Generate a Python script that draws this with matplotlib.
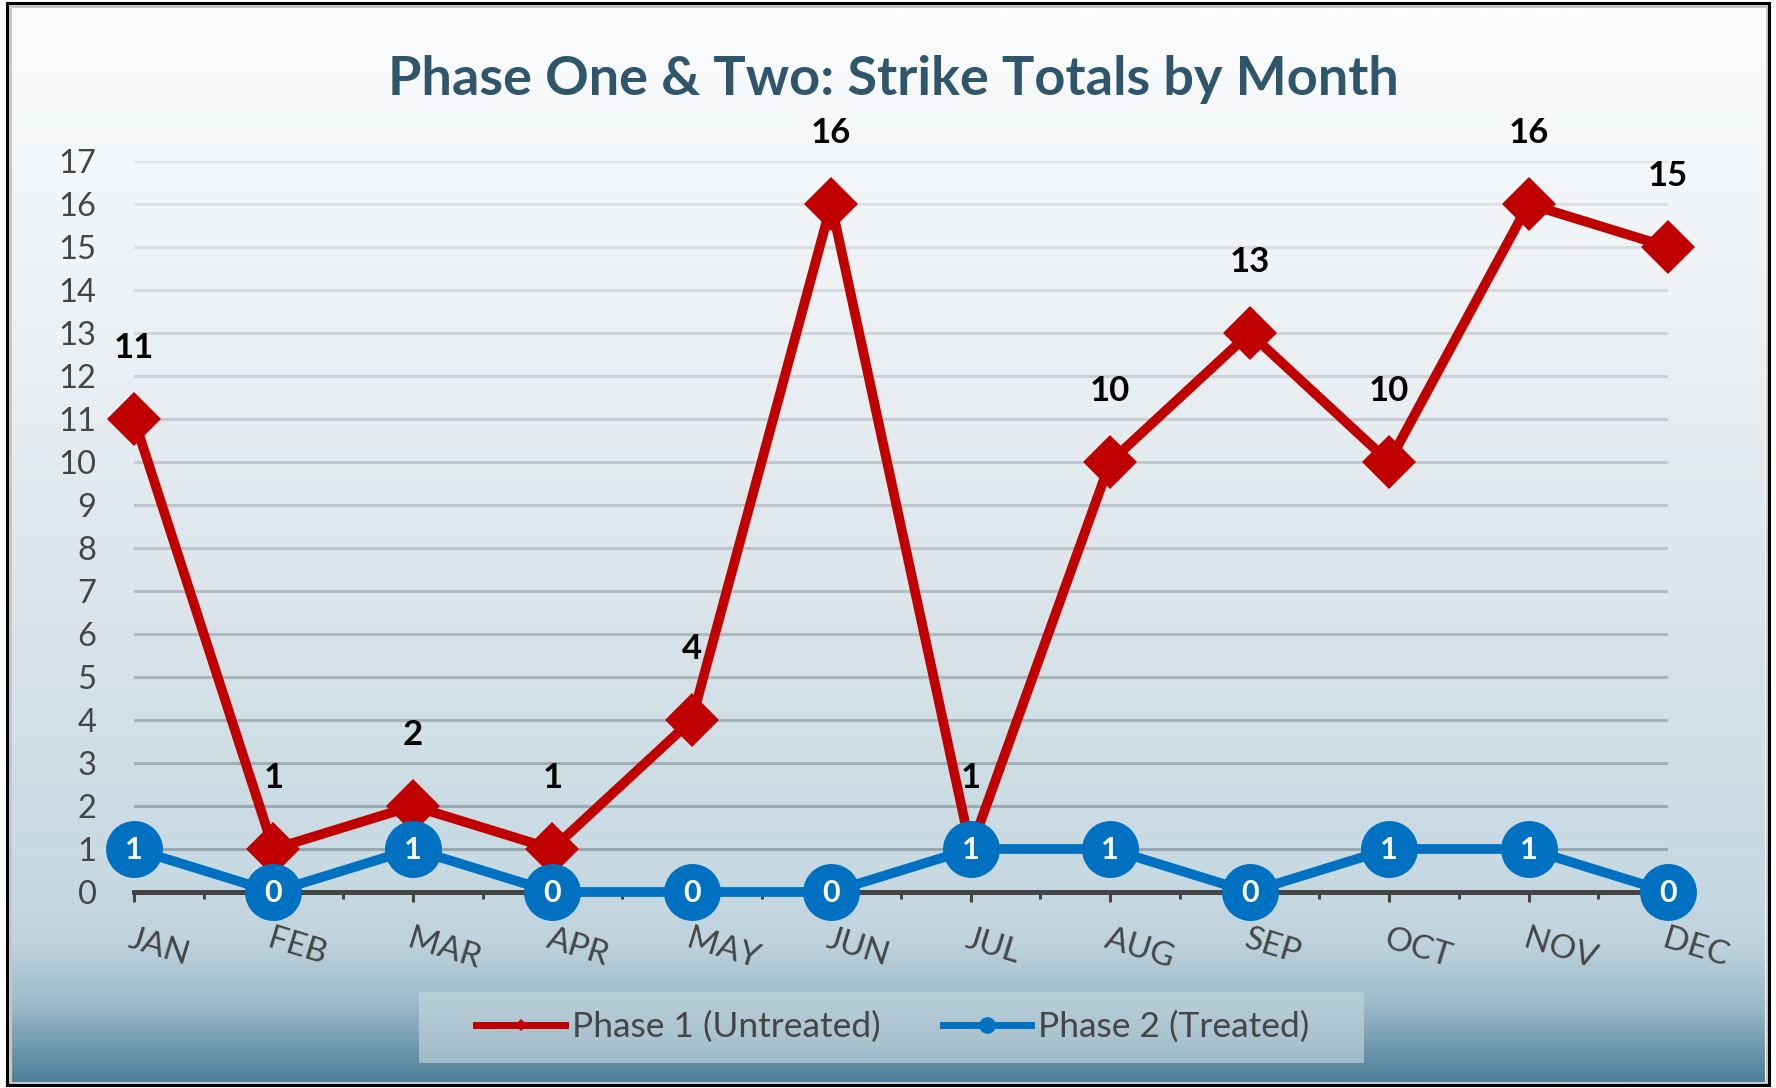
import numpy as np
import matplotlib
matplotlib.use("Agg")
import matplotlib.pyplot as plt
from matplotlib.colors import LinearSegmentedColormap
from matplotlib.patches import Rectangle
from matplotlib.lines import Line2D

# data
months = ["JAN", "FEB", "MAR", "APR", "MAY", "JUN",
          "JUL", "AUG", "SEP", "OCT", "NOV", "DEC"]
phase1 = [11, 1, 2, 1, 4, 16, 1, 10, 13, 10, 16, 15]
phase2 = [1, 0, 1, 0, 0, 0, 1, 1, 0, 1, 1, 0]
y_ticks = list(range(0, 18))
title = "Phase One & Two: Strike Totals by Month"
labels = ["Phase 1 (Untreated)", "Phase 2 (Treated)"]

RED = "#c00000"
BLUE = "#0070c0"
GREY = "#454545"

plt.rcParams["font.family"] = ["Lato", "DejaVu Sans"]

W, H = 1776, 1088
fig = plt.figure(figsize=(W / 100, H / 100), dpi=100)
fig.patch.set_facecolor("white")

# background gradient inside the frame
bg = fig.add_axes([12 / W, 6 / H, (W - 24) / W, (H - 14) / H])
bg_cmap = LinearSegmentedColormap.from_list("bg", [
    (0.0, "#fbfcfd"),
    (0.27, "#eef2f5"),
    (0.55, "#dbe5ea"),
    (0.83, "#c5d8e1"),
    (0.87, "#bfd3dd"),
    (0.93, "#9bbac9"),
    (1.0, "#4e7f98"),
])
bg.imshow(np.linspace(0, 1, 512).reshape(-1, 1), aspect="auto", cmap=bg_cmap,
          extent=[0, 1, 1, 0])
bg.set_axis_off()

# frame
fig.patches.append(Rectangle((9.5 / W, 5.5 / H), (W - 19) / W, (H - 11) / H,
                             transform=fig.transFigure, fill=False,
                             edgecolor="#c8c8c8", lw=2.2, zorder=5))
fig.patches.append(Rectangle((7 / W, 3 / H), (W - 14) / W, (H - 6) / H,
                             transform=fig.transFigure, fill=False,
                             edgecolor="black", lw=2.2, zorder=6))

# main axes
ax = fig.add_axes([134 / W, (H - 892) / H, (1668 - 134) / W, (892 - 161) / H])
ax.set_facecolor("none")
ax.set_xlim(0, 11)
ax.set_ylim(0, 17)

x = np.arange(len(months))

# gridlines, darker towards the bottom like the original
for v in y_ticks[1:]:
    a = 0.09 + 0.24 * (1 - v / 17)
    ax.axhline(v, color="#2f3c44", alpha=a, lw=2.2, zorder=1)

ax.plot(x, phase1, color=RED, lw=7, marker="D", ms=28, mew=0,
        clip_on=False, zorder=3)
ax.plot(x, phase2, color=BLUE, lw=7, marker="o", ms=41, mew=0,
        clip_on=False, zorder=4)

for xi, v in zip(x, phase1):
    ax.annotate(str(v), (xi, v), xytext=(0, 51), textcoords="offset points",
                ha="center", va="center", fontsize=25, fontweight="bold",
                color="black", zorder=6, annotation_clip=False)
for xi, v in zip(x, phase2):
    ax.annotate(str(v), (xi, v), xytext=(0, -1), textcoords="offset points",
                ha="center", va="center", fontsize=22, fontweight="bold",
                color="white", zorder=6, annotation_clip=False)

for s in ["top", "right", "left"]:
    ax.spines[s].set_visible(False)
ax.spines["bottom"].set_color(GREY)
ax.spines["bottom"].set_linewidth(3.6)
ax.spines["bottom"].set_zorder(2)

ax.set_xticks(x)
ax.set_xticklabels(months)
ax.set_xticks(np.arange(0.5, 11, 1), minor=True)
ax.tick_params(axis="x", which="major", length=7, width=2.2, color=GREY,
               pad=16, labelsize=24, labelcolor=GREY)
ax.tick_params(axis="x", which="minor", length=5, width=2.2, color=GREY)
for lab in ax.get_xticklabels():
    lab.set_rotation(-17)
    lab.set_rotation_mode("anchor")
    lab.set_ha("left")
    lab.set_va("top")

ax.set_yticks(y_ticks)
ax.tick_params(axis="y", length=0, pad=27, labelsize=23.5, labelcolor=GREY)

# title
fig.text(893 / W, 1 - 79 / H, title, ha="center", va="center", fontsize=39,
         fontweight="bold", color="#2f566b")

# legend
fig.patches.append(Rectangle((419 / W, (H - 1063) / H), (1364 - 419) / W,
                             71 / H, transform=fig.transFigure,
                             facecolor="#c3d5dd", alpha=0.65, edgecolor="none",
                             zorder=2))
handles = [
    Line2D([], [], color=RED, lw=5, marker="D", ms=6, mew=0),
    Line2D([], [], color=BLUE, lw=5, marker="o", ms=12, mew=0),
]
leg = fig.legend(handles, labels, loc="center",
                 bbox_to_anchor=(893 / W, 1 - 1027 / H), ncol=2,
                 frameon=False, fontsize=25.5, handlelength=2.5,
                 handletextpad=0.2, columnspacing=1.75, labelcolor=GREY)
leg.set_zorder(7)

fig.savefig("out.png", dpi=100, facecolor=fig.get_facecolor())
